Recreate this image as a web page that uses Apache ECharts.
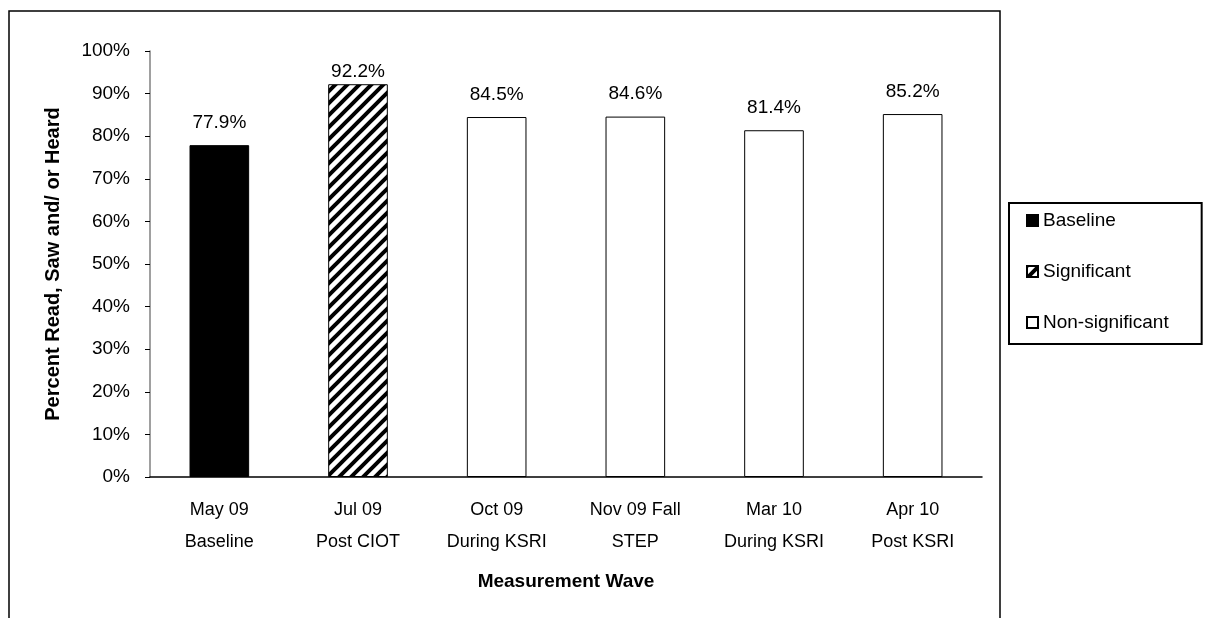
<!DOCTYPE html>
<html>
<head>
<meta charset="utf-8">
<script src="https://cdn.jsdelivr.net/npm/echarts@6/dist/echarts.min.js"></script>
<style>
  html, body { margin: 0; padding: 0; background: #fff; }
  #chart { width: 1207px; height: 618px; }
</style>
</head>
<body>
<div id="chart"></div>
<script>
const categories = [
  'May 09\nBaseline',
  'Jul 09\nPost CIOT',
  'Oct 09\nDuring KSRI',
  'Nov 09 Fall\nSTEP',
  'Mar 10\nDuring KSRI',
  'Apr 10\nPost KSRI'
];
const baseline = [77.9, '-', '-', '-', '-', '-'];
const significant = ['-', 92.2, '-', '-', '-', '-'];
const nonSignificant = ['-', '-', 84.5, 84.6, 81.4, 85.2];
const yTicks = { min: 0, max: 100, interval: 10 };

const font = "'Liberation Sans', Arial, sans-serif";

// diagonal "/" hatch used for the significant bar
function hatch() {
  const s = 12;
  const c = document.createElement('canvas');
  c.width = s;
  c.height = s;
  const g = c.getContext('2d');
  g.fillStyle = '#fff';
  g.fillRect(0, 0, s, s);
  g.strokeStyle = '#000';
  g.lineWidth = 4;
  g.beginPath();
  g.moveTo(-3, s + 3); g.lineTo(s + 3, -3);
  g.moveTo(-3, 3); g.lineTo(3, -3);
  g.moveTo(s - 3, s + 3); g.lineTo(s + 3, s - 3);
  g.stroke();
  return c;
}

const label = {
  show: true,
  position: 'top',
  distance: 13,
  color: '#000',
  fontFamily: font,
  fontSize: 19,
  formatter: (p) => p.value.toFixed(1) + '%'
};

const chart = echarts.init(document.getElementById('chart'));
chart.setOption({
  animation: false,
  backgroundColor: '#fff',
  textStyle: { fontFamily: font },
  graphic: [{
    type: 'rect',
    shape: { x: 9, y: 11, width: 991, height: 640 },
    style: { fill: 'none', stroke: '#000', lineWidth: 1.5 },
    silent: true
  }],
  grid: { left: 150, right: 225, top: 51, bottom: 141 },
  legend: {
    orient: 'vertical',
    left: 1009,
    top: 203,
    padding: [8, 33, 12, 17],
    itemGap: 32,
    itemWidth: 11,
    itemHeight: 11,
    borderColor: '#000',
    borderWidth: 2,
    textStyle: { fontSize: 19, color: '#000', fontFamily: font },
    data: [
      { name: 'Baseline', icon: 'rect' },
      { name: 'Significant', icon: 'rect' },
      { name: 'Non-significant', icon: 'rect' }
    ]
  },
  xAxis: {
    type: 'category',
    data: categories,
    name: 'Measurement Wave',
    nameLocation: 'middle',
    nameGap: 95,
    nameTextStyle: { fontSize: 19, fontWeight: 'bold', color: '#000' },
    axisLine: { lineStyle: { color: '#000', width: 1.5 } },
    axisTick: { length: 6, lineStyle: { color: '#000' } },
    axisLabel: {
      margin: 17,
      color: '#000',
      fontSize: 18,
      lineHeight: 32
    }
  },
  yAxis: {
    type: 'value',
    min: yTicks.min,
    max: yTicks.max,
    interval: yTicks.interval,
    name: 'Percent Read, Saw and/ or Heard',
    nameLocation: 'middle',
    nameGap: 87,
    nameTextStyle: { fontSize: 20, fontWeight: 'bold', color: '#000' },
    axisLine: { show: true, lineStyle: { color: '#808080', width: 1.5 } },
    axisTick: { show: true, length: 5, lineStyle: { color: '#000' } },
    axisLabel: { margin: 20, color: '#000', fontSize: 19, formatter: '{value}%' },
    splitLine: { show: false }
  },
  series: [
    {
      name: 'Baseline',
      type: 'bar',
      stack: 'wave',
      barWidth: '43%',
      data: baseline,
      itemStyle: { color: '#000', borderColor: '#000', borderWidth: 1 },
      label: label
    },
    {
      name: 'Significant',
      type: 'bar',
      stack: 'wave',
      data: significant,
      itemStyle: { color: { image: hatch(), repeat: 'repeat' }, borderColor: '#000', borderWidth: 1 },
      label: Object.assign({}, label, { distance: 3 })
    },
    {
      name: 'Non-significant',
      type: 'bar',
      stack: 'wave',
      data: nonSignificant,
      itemStyle: { color: '#fff', borderColor: '#000', borderWidth: 1 },
      label: label
    }
  ]
});
</script>
</body>
</html>
